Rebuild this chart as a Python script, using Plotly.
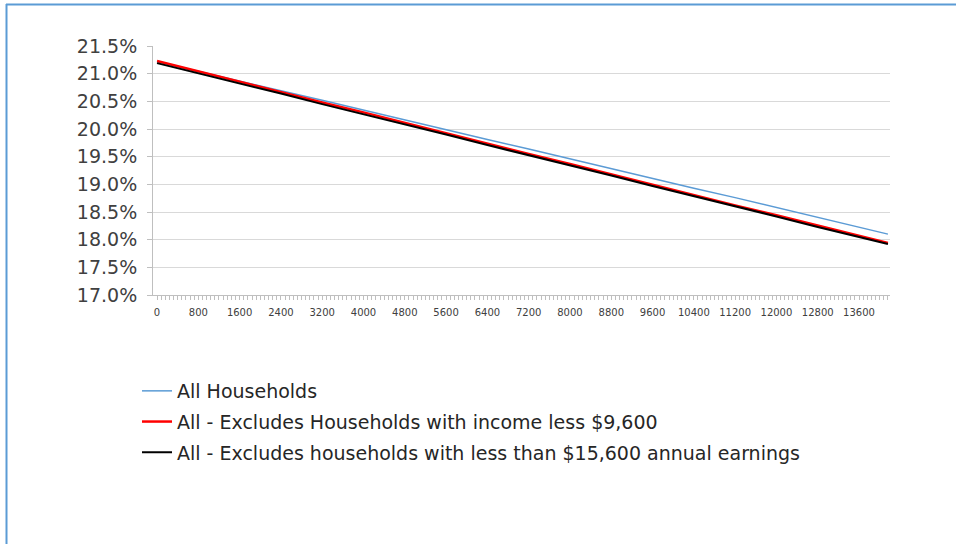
import plotly.graph_objects as go

income = [0, 800, 1600, 2400, 3200, 4000, 4800, 5600, 6400, 7200, 8000,
          8800, 9600, 10400, 11200, 12000, 12800, 13600, 14160]
all_households = [21.22, 21.04, 20.87, 20.69, 20.52, 20.34, 20.16, 19.99, 19.81, 19.64,
                  19.46, 19.29, 19.11, 18.93, 18.76, 18.58, 18.41, 18.23, 18.10]
excl_income_9600 = [21.23, 21.04, 20.86, 20.67, 20.48, 20.30, 20.11, 19.93, 19.74, 19.55,
                    19.37, 19.18, 18.99, 18.81, 18.62, 18.44, 18.25, 18.06, 17.94]
excl_earnings_15600 = [21.19, 21.01, 20.82, 20.64, 20.45, 20.27, 20.08, 19.90, 19.71, 19.53,
                       19.34, 19.16, 18.97, 18.79, 18.60, 18.42, 18.23, 18.05, 17.92]

series_names = [
    "All Households",
    "All - Excludes Households with income less $9,600",
    "All - Excludes households with less than $15,600 annual earnings",
]
x_tick_values = list(range(0, 14400, 800))
y_tick_values = [17.0, 17.5, 18.0, 18.5, 19.0, 19.5, 20.0, 20.5, 21.0, 21.5]

W, H = 956, 544
ML, MR, MT, MB = 153, 66, 46, 249
PW, PH = W - ML - MR, H - MT - MB

def px_x(px):
    return (px - ML) / PW

def px_y(py):
    return (H - MB - py) / PH

fig = go.Figure()
colors = ["#5b9bd5", "#ff0000", "#000000"]
widths = [1.5, 2.5, 2.0]
for i, (name, vals) in enumerate(zip(series_names, [all_households, excl_income_9600, excl_earnings_15600])):
    fig.add_trace(go.Scatter(
        x=income, y=vals, mode="lines", name=name,
        line=dict(color=colors[i], width=widths[i]),
        legendgroup=f"g{i}",
    ))

fig.update_layout(
    width=W, height=H,
    margin=dict(l=ML, r=MR, t=MT, b=MB, pad=0),
    paper_bgcolor="white", plot_bgcolor="white",
    font=dict(family="DejaVu Sans, sans-serif", color="#404040"),
    showlegend=True,
    legend=dict(
        x=px_x(137), y=px_y(372), xanchor="left", yanchor="top",
        orientation="v", tracegroupgap=3,
        font=dict(size=19, color="#262626", family="DejaVu Sans, sans-serif"),
        bgcolor="rgba(0,0,0,0)",
    ),
    xaxis=dict(
        range=[-78, 14200],
        tickmode="array", tickvals=x_tick_values,
        ticktext=[str(v) for v in x_tick_values],
        tickfont=dict(size=10, color="#404040"),
        ticks="outside", ticklen=4, tickcolor="#bfbfbf", tickwidth=1,
        minor=dict(dtick=80, tick0=0, ticks="outside", ticklen=4, tickcolor="#bfbfbf", tickwidth=1, showgrid=False),
        showgrid=False, zeroline=False,
        showline=True, linecolor="#bfbfbf", linewidth=1,
        ticklabelstandoff=4,
    ),
    yaxis=dict(
        range=[17.0, 21.5],
        tickmode="array", tickvals=y_tick_values,
        ticktext=[f"{v:.1f}%" for v in y_tick_values],
        tickfont=dict(size=19, color="#404040"),
        ticks="outside", ticklen=5, tickcolor="#bfbfbf",
        showgrid=True, gridcolor="#d9d9d9", gridwidth=1,
        zeroline=False, showline=True, linecolor="#bfbfbf", linewidth=1,
        ticklabelstandoff=6,
    ),
    shapes=[
        dict(type="line", xref="paper", yref="paper",
             x0=px_x(6), x1=px_x(956), y0=px_y(4.5), y1=px_y(4.5),
             line=dict(color="#5b9bd5", width=2)),
        dict(type="line", xref="paper", yref="paper",
             x0=px_x(6.5), x1=px_x(6.5), y0=px_y(4), y1=px_y(544),
             line=dict(color="#5b9bd5", width=2)),
    ],
)

fig.write_html("out.html", config={"displayModeBar": False},
               post_script="document.body.style.margin='0';document.body.style.padding='0';")
